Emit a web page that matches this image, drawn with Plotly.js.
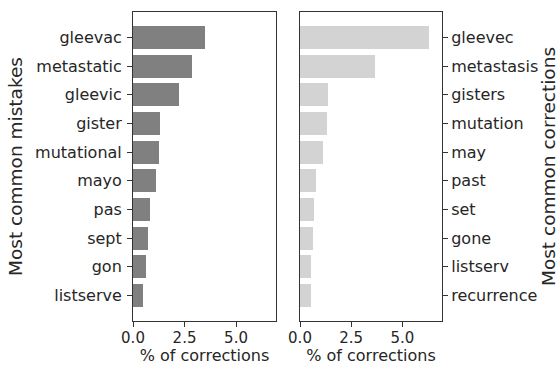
<!DOCTYPE html>
<html><head><meta charset="utf-8">
<script src="https://cdn.plot.ly/plotly-3.0.1.min.js"></script>
<style>html,body{margin:0;padding:0;background:#fff}#c{width:559px;height:365px}</style>
</head><body><div id="c"></div>
<script>
const mistakes = ["gleevac","metastatic","gleevic","gister","mutational","mayo","pas","sept","gon","listserve"];
const mistakeVals = [3.51,2.86,2.21,1.33,1.27,1.14,0.81,0.75,0.62,0.49];
const corrections = ["gleevec","metastasis","gisters","mutation","may","past","set","gone","listserv","recurrence"];
const correctionVals = [6.31,3.67,1.37,1.30,1.11,0.77,0.70,0.63,0.52,0.52];
const xTicks = [0,2.5,5];
const xTickText = ["0.0","2.5","5.0"];
const xMax = 6.94;

const font = {family:"DejaVu Sans", color:"#262626"};
const traces = [
  {type:"bar", orientation:"h", x:mistakeVals, y:mistakes, xaxis:"x", yaxis:"y",
   marker:{color:"#808080"}, width:0.8, hoverinfo:"x+y"},
  {type:"bar", orientation:"h", x:correctionVals, y:corrections, xaxis:"x2", yaxis:"y2",
   marker:{color:"#d3d3d3"}, width:0.8, hoverinfo:"x+y"}
];
const xcommon = {range:[0,xMax], tickvals:xTicks, ticktext:xTickText, ticks:"outside", ticklen:5,
  tickcolor:"#333", showline:true, linecolor:"#333", linewidth:1, mirror:true, showgrid:false,
  zeroline:false, tickfont:{size:15}, ticklabelstandoff:-2, title:{text:"% of corrections", font:{size:16}, standoff:3}};
const ycommon = {type:"category", range:[9.89,-0.89], ticks:"outside", ticklen:5, tickcolor:"#333",
  showline:true, linecolor:"#333", linewidth:1, mirror:true, showgrid:false, zeroline:false,
  tickfont:{size:16}, domain:[0.1205,0.9671]};
const layout = {
  width:559, height:365, margin:{l:0,r:0,t:0,b:0}, showlegend:false, bargap:0,
  paper_bgcolor:"#fff", plot_bgcolor:"#fff", font:font,
  xaxis:Object.assign({}, xcommon, {domain:[133/559, 276/559], anchor:"y"}),
  xaxis2:Object.assign({}, xcommon, {domain:[300/559, 442/559], anchor:"y2"}),
  yaxis:Object.assign({}, ycommon, {anchor:"x", ticklabelstandoff:2, title:{text:"Most common mistakes", font:{size:18.5}, standoff:7}}),
  yaxis2:Object.assign({}, ycommon, {anchor:"x2", side:"right", title:{text:"Most common corrections", font:{size:18.5}, standoff:6}})
};
Plotly.newPlot("c", traces, layout, {displayModeBar:false, staticPlot:true});
</script></body></html>
